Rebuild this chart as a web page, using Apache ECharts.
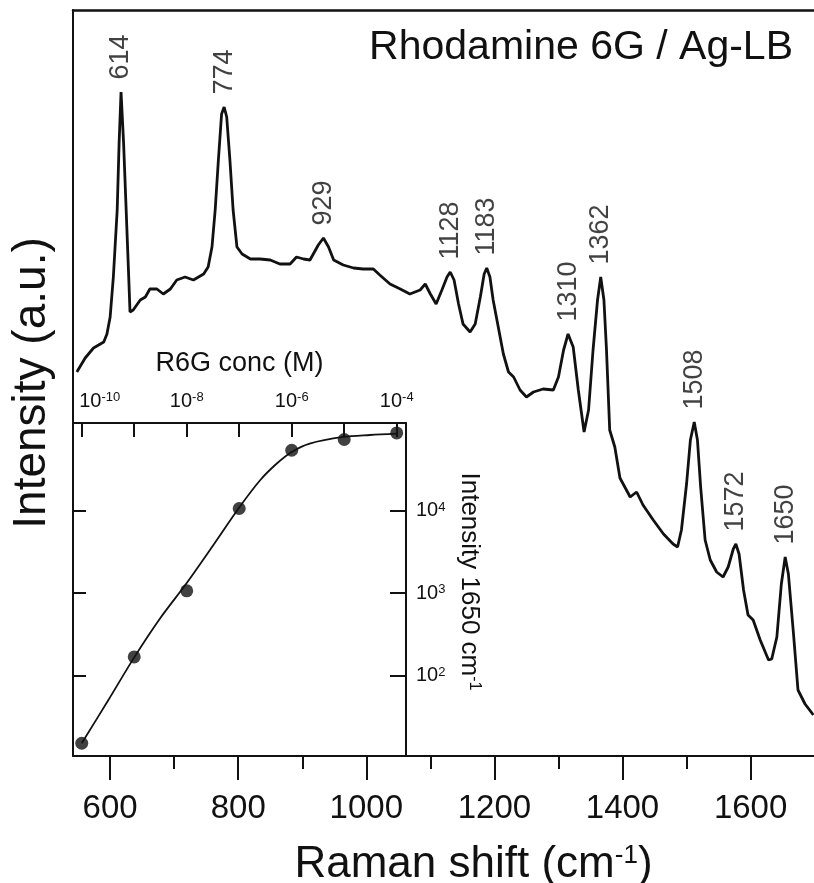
<!DOCTYPE html>
<html>
<head>
<meta charset="utf-8">
<script src="https://cdn.jsdelivr.net/npm/echarts@6/dist/echarts.min.js"></script>
<style>
  html, body { margin: 0; padding: 0; background: #fff; }
  #chart { width: 814px; height: 883px; }
</style>
</head>
<body>
<div id="chart"></div>
<script>
// SERS spectrum, R6G on Ag-LB film (arbitrary units)
const ramanShift = [548, 561, 574, 590, 595, 600, 605, 611, 614, 617, 621, 625, 629, 631, 636, 647, 655, 662, 673, 683,
  694, 704, 717, 730, 746, 753, 759, 764, 769, 774, 778, 782, 787, 792, 798, 806, 819, 834, 850, 865,
  881, 891, 902, 912, 925, 933, 941, 949, 964, 980, 995, 1011, 1021, 1037, 1053, 1068, 1084, 1092, 1100, 1109,
  1118, 1126, 1131, 1137, 1144, 1151, 1162, 1170, 1178, 1184, 1188, 1193, 1198, 1206, 1214, 1222, 1230, 1240, 1250, 1261,
  1276, 1292, 1300, 1308, 1315, 1323, 1331, 1340, 1347, 1354, 1361, 1366, 1371, 1375, 1380, 1388, 1396, 1412, 1422, 1432,
  1448, 1464, 1479, 1486, 1492, 1500, 1506, 1512, 1517, 1522, 1529, 1537, 1547, 1557, 1565, 1573, 1577, 1582, 1589, 1596,
  1604, 1615, 1628, 1633, 1641, 1648, 1654, 1659, 1667, 1674, 1685, 1698]
const intensity = [384, 398, 408, 414, 422, 439, 479, 546, 613, 664, 613, 546, 479, 444, 446, 456, 459, 467, 467, 462,
  467, 476, 479, 476, 482, 489, 509, 546, 596, 642, 649, 639, 596, 546, 509, 502, 497, 497, 496, 492,
  492, 499, 497, 496, 511, 518, 509, 496, 491, 488, 487, 487, 481, 472, 467, 462, 466, 472, 462, 452,
  466, 479, 484, 476, 452, 432, 424, 432, 459, 482, 488, 479, 456, 429, 402, 384, 379, 366, 359, 364,
  367, 366, 379, 406, 422, 409, 366, 324, 346, 406, 456, 479, 456, 406, 326, 309, 278, 259, 264, 251,
  236, 222, 212, 209, 226, 272, 316, 334, 316, 269, 216, 196, 184, 179, 189, 207, 212, 202, 166, 141,
  136, 116, 96, 97, 119, 172, 199, 182, 122, 66, 52, 41]

// labelled bands: printed value, and where that peak sits in the trace
const peakLabels = ["614", "774", "929", "1128", "1183", "1310", "1362", "1508", "1572", "1650"]
const peakShift = [617, 778, 933, 1131, 1188, 1315, 1366, 1512, 1577, 1654]

// main x axis ticks
const shiftMajor = [600, 800, 1000, 1200, 1400, 1600]
const shiftMinor = [700, 900, 1100, 1300, 1500]

// inset: 1650 cm-1 band intensity vs R6G concentration
const conc = [1e-10, 1e-9, 1e-8, 1e-7, 1e-6, 1e-5, 1e-4]
const band1650 = [15, 168, 1070, 10700, 54700, 73800, 88700]
const fitConc = [1e-10, 3.2e-10, 1e-9, 3.1e-9, 1e-8, 3.2e-8, 1e-7, 2.5e-7, 5.2e-7, 1e-6, 2.2e-6, 9.6e-6, 3.1e-5, 1e-4]
const fitIntensity = [15, 50, 166, 493, 1330, 3830, 11000, 23600, 37700, 52100, 65900, 79300, 83800, 87100]
const concTicks = [1e-10, 1e-9, 1e-8, 1e-7, 1e-6, 1e-5, 1e-4]
const concLabels = [1e-10, 1e-8, 1e-6, 1e-4]
const intTicks = [1e2, 1e3, 1e4]

const FONT = "'Liberation Sans', Arial, sans-serif"
const INK = "#111"

const spectrum = ramanShift.map((x, i) => [x, intensity[i]])
const peaks = peakShift.map((x, i) => {
  const j = ramanShift.indexOf(x)
  return { name: peakLabels[i], value: [ramanShift[j], intensity[j]] }
})

const exponent = (v) => Math.round(Math.log10(v))
const supRich = {
  f: { fontSize: 20, fontFamily: FONT, color: INK },
  p: { fontSize: 20, fontFamily: FONT, color: INK, padding: [0, 0, 0, 36] },
  s: { fontSize: 13, fontFamily: FONT, color: INK, verticalAlign: "top" },
}

const chart = echarts.init(document.getElementById("chart"), null, { renderer: "canvas" })

chart.setOption({
  animation: false,
  backgroundColor: "#fff",
  title: {
    text: "Rhodamine 6G / Ag-LB",
    right: 16,
    top: 22,
    textStyle: { fontFamily: FONT, fontSize: 41, fontWeight: "normal", color: INK },
  },
  grid: [
    { left: 73, top: 10, right: 0, bottom: 127, outerBoundsMode: "none", containLabel: false },
    { left: 73, top: 423, width: 333, height: 333, outerBoundsMode: "none", containLabel: false },
  ],
  xAxis: [
    {
      type: "value",
      gridIndex: 0,
      position: "bottom",
      min: 542,
      max: 1699,
      axisLine: { lineStyle: { color: INK, width: 2 } },
      axisTick: { customValues: shiftMajor, length: 24, lineStyle: { color: INK, width: 2 } },
      splitLine: { show: false },
      axisLabel: {
        customValues: shiftMajor,
        margin: 36, fontSize: 33, fontFamily: FONT, color: INK,
        formatter: (v) => String(v),
      },
      name: "{n|Raman shift (cm}{s|-1}{n|)}",
      nameLocation: "middle",
      nameGap: 87,
      nameTextStyle: {
        padding: [0, 0, 0, 60],
        rich: {
          n: { fontSize: 44, fontFamily: FONT, color: INK },
          s: { fontSize: 26, fontFamily: FONT, color: INK, verticalAlign: "top" },
        },
      },
    },
    {
      type: "value",
      gridIndex: 0,
      position: "top",
      min: 542,
      max: 1699,
      axisLine: { lineStyle: { color: INK, width: 2.5 } },
      axisTick: { show: false },
      axisLabel: { show: false },
      splitLine: { show: false },
    },
    {
      type: "log",
      gridIndex: 1,
      position: "top",
      min: 6.82e-11,
      max: 1.503e-4,
      axisLine: { onZero: false, lineStyle: { color: INK, width: 2 } },
      axisTick: { customValues: concTicks, inside: true, length: 14, lineStyle: { color: INK, width: 2 } },
      splitLine: { show: false },
      axisLabel: {
        customValues: concLabels,
        margin: 12,
        formatter: (v) => {
          const e = exponent(v)
          return (e === -10 ? "{p|10}" : "{f|10}") + "{s|" + e + "}"
        },
        rich: supRich,
      },
      name: "R6G conc (M)",
      nameLocation: "middle",
      nameGap: 46,
      nameTextStyle: { fontSize: 27, fontFamily: FONT, color: INK },
    },
    {
      // minor ticks of the Raman shift axis
      type: "value",
      gridIndex: 0,
      position: "bottom",
      min: 542,
      max: 1699,
      axisLine: { show: false },
      axisTick: { customValues: shiftMinor, length: 13, lineStyle: { color: INK, width: 2 } },
      axisLabel: { show: false },
      splitLine: { show: false },
    },
  ],
  yAxis: [
    {
      type: "value",
      gridIndex: 0,
      min: 0,
      max: 746,
      axisLine: { show: true, lineStyle: { color: INK, width: 2 } },
      axisTick: { show: false },
      axisLabel: { show: false },
      splitLine: { show: false },
      name: "Intensity (a.u.)",
      nameLocation: "middle",
      nameGap: 18,
      nameTextStyle: { fontSize: 46, fontFamily: FONT, color: INK },
    },
    {
      type: "log",
      gridIndex: 1,
      position: "right",
      min: 10.5,
      max: 117200,
      axisLine: { show: true, onZero: false, lineStyle: { color: INK, width: 2 } },
      axisTick: { customValues: intTicks, inside: true, length: 16, lineStyle: { color: INK, width: 2 } },
      splitLine: { show: false },
      axisLabel: {
        customValues: intTicks,
        margin: 10,
        formatter: (v) => "{f|10}{s|" + exponent(v) + "}",
        rich: supRich,
      },
      name: "{n|Intensity 1650 cm}{s|-1}",
      nameLocation: "middle",
      nameRotate: -90,
      nameGap: 50,
      nameTextStyle: {
        padding: [0, 16, 0, 0],
        rich: {
          n: { fontSize: 26, fontFamily: FONT, color: INK },
          s: { fontSize: 16, fontFamily: FONT, color: INK, verticalAlign: "top" },
        },
      },
    },
    {
      type: "log",
      gridIndex: 1,
      position: "left",
      min: 10.5,
      max: 117200,
      axisLine: { show: false },
      axisTick: { customValues: intTicks, inside: true, length: 13, lineStyle: { color: INK, width: 2 } },
      axisLabel: { show: false },
      splitLine: { show: false },
    },
  ],
  series: [
    {
      type: "line",
      xAxisIndex: 0,
      yAxisIndex: 0,
      data: spectrum,
      showSymbol: false,
      lineStyle: { color: INK, width: 2.8 },
      z: 3,
    },
    {
      type: "scatter",
      xAxisIndex: 0,
      yAxisIndex: 0,
      data: peaks,
      symbolSize: 1,
      itemStyle: { color: "transparent" },
      label: {
        show: true,
        formatter: (p) => p.name,
        position: "top",
        distance: 12,
        rotate: 90,
        align: "left",
        verticalAlign: "middle",
        fontSize: 27,
        fontFamily: FONT,
        color: INK,
      },
    },
    {
      type: "line",
      xAxisIndex: 2,
      yAxisIndex: 1,
      data: fitConc.map((x, i) => [x, fitIntensity[i]]),
      smooth: 0.3,
      showSymbol: false,
      lineStyle: { color: INK, width: 1.8 },
    },
    {
      type: "scatter",
      xAxisIndex: 2,
      yAxisIndex: 1,
      data: conc.map((x, i) => [x, band1650[i]]),
      symbolSize: 13,
      itemStyle: { color: INK },
      z: 4,
    },
  ],
})

window.addEventListener("resize", () => chart.resize())
</script>
</body>
</html>
